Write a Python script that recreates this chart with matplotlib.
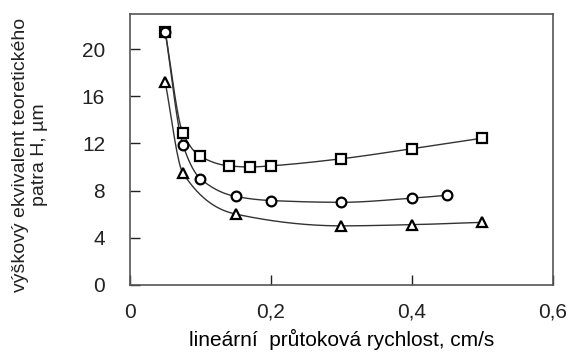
import matplotlib
matplotlib.use("Agg")
import matplotlib.pyplot as plt
import numpy as np

plt.rcParams['font.family'] = ['Liberation Sans', 'DejaVu Sans']

# data
x_sq = [0.05, 0.075, 0.1, 0.14, 0.17, 0.2, 0.3, 0.4, 0.5]
h_sq = [21.5, 12.9, 10.9, 10.1, 10.0, 10.1, 10.7, 11.55, 12.45]
x_ci = [0.05, 0.075, 0.1, 0.15, 0.2, 0.3, 0.4, 0.45]
h_ci = [21.5, 11.9, 9.0, 7.5, 7.15, 7.0, 7.35, 7.6]
x_tr = [0.05, 0.075, 0.15, 0.3, 0.4, 0.5]
h_tr = [17.2, 9.5, 6.0, 5.0, 5.1, 5.3]

xticks = [0, 0.2, 0.4, 0.6]
xtick_labels = ['0', '0,2', '0,4', '0,6']
yticks = [0, 4, 8, 12, 16, 20]


def pchip(x, y, n=300):
    # monotone cubic through the points (smooth line like the original)
    x = np.asarray(x, float)
    y = np.asarray(y, float)
    h = np.diff(x)
    d = np.diff(y) / h
    m = np.zeros_like(y)
    for k in range(1, len(x) - 1):
        if d[k - 1] * d[k] > 0:
            w1 = 2 * h[k] + h[k - 1]
            w2 = h[k] + 2 * h[k - 1]
            m[k] = (w1 + w2) / (w1 / d[k - 1] + w2 / d[k])
    m[0] = d[0]
    m[-1] = d[-1]
    xs = np.linspace(x[0], x[-1], n)
    idx = np.clip(np.searchsorted(x, xs) - 1, 0, len(x) - 2)
    t = (xs - x[idx]) / h[idx]
    h00 = 2 * t**3 - 3 * t**2 + 1
    h10 = t**3 - 2 * t**2 + t
    h01 = -2 * t**3 + 3 * t**2
    h11 = t**3 - t**2
    ys = h00 * y[idx] + h10 * h[idx] * m[idx] + h01 * y[idx + 1] + h11 * h[idx] * m[idx + 1]
    return xs, ys


fig = plt.figure(figsize=(5.71, 3.53), dpi=100)
ax = fig.add_axes([130 / 571, 1 - 284.7 / 353, (552.7 - 130) / 571, (284.7 - 14) / 353])

for xs, hs, mk in [(x_sq, h_sq, 's'), (x_ci, h_ci, 'o'), (x_tr, h_tr, '^')]:
    cx, cy = pchip(xs, hs)
    ax.plot(cx, cy, color='#333333', lw=1.0, zorder=2)
    ax.plot(xs, hs, linestyle='none', marker=mk, ms=7, mfc='white',
            mec='black', mew=1.6, zorder=3)

ax.set_xlim(0, 0.6)
ax.set_ylim(0, 23)
ax.set_xticks(xticks)
ax.set_xticklabels(xtick_labels)
ax.set_yticks(yticks)
ax.tick_params(direction='in', length=7, width=1, labelsize=15, colors='#222222')
ax.tick_params(axis='x', pad=13)
ax.tick_params(axis='y', pad=18)
for s in ax.spines.values():
    s.set_color('#555555')
    s.set_linewidth(1.2)

ax.set_xlabel('lineární  průtoková rychlost, cm/s', fontsize=15)
ax.xaxis.set_label_coords(0.5, -(353 - 284.7 - 3) / 270.7)
ax.xaxis.label.set_va('bottom')
fig.text(30 / 571, 1 - 155 / 353, 'výškový ekvivalent teoretického\npatra H, µm',
         fontsize=14, rotation=90, ha='center', va='center',
         multialignment='center', linespacing=1.2, color='#222222')

fig.savefig('out.png', dpi=100)
